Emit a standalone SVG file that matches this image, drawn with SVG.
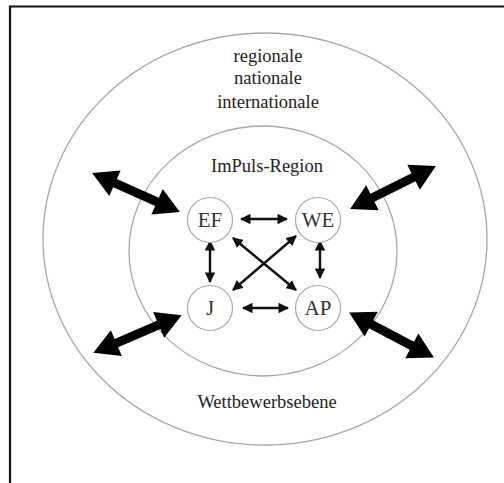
<svg xmlns="http://www.w3.org/2000/svg" width="504" height="483" viewBox="0 0 504 483">
<style>
.ring{fill:none;stroke:#a8a8a8;stroke-width:1.3}
.node{fill:#fff;stroke:#a8a8a8;stroke-width:1.2}
.lbl{font-family:"Liberation Serif",serif;fill:#222;text-anchor:middle;font-size:18.5px}
.nl{font-family:"Liberation Serif",serif;fill:#333;text-anchor:middle;font-size:21px}
.sm{stroke:#111;stroke-width:2.4;fill:none;marker-start:url(#ah);marker-end:url(#ah)}
.big{fill:#000}
</style>
<defs>
<marker id="ah" viewBox="0 0 10 10" refX="9" refY="5" markerWidth="4.4" markerHeight="4.4" orient="auto-start-reverse" markerUnits="strokeWidth">
<path d="M0,0 L10,5 L0,10 Z" fill="#111"/>
</marker>
<path id="bigarrow" d="M-48,0 L-23,-14 L-23,-4.5 L23,-4.5 L23,-14 L48,0 L23,14 L23,4.5 L-23,4.5 L-23,14 Z"/>
</defs>
<rect width="504" height="483" fill="#fff"/>
<path d="M10,483 L10,6.5 L504,6.5" fill="none" stroke="#111" stroke-width="2.2"/>
<g id="outer">
<ellipse class="ring" cx="265" cy="239" rx="222" ry="206"/>
<text class="lbl" x="268" y="62">regionale</text>
<text class="lbl" x="268" y="84">nationale</text>
<text class="lbl" x="268" y="108">internationale</text>
<text class="lbl" x="267" y="408">Wettbewerbsebene</text>
</g>
<g id="inner">
<ellipse class="ring" cx="263" cy="251" rx="134" ry="125"/>
<text class="lbl" x="267" y="172">ImPuls-Region</text>
</g>
<g id="connectors">
<line class="sm" x1="241" y1="219" x2="287" y2="219"/>
<line class="sm" x1="243" y1="308" x2="288" y2="308"/>
<line class="sm" x1="210" y1="241" x2="210" y2="282"/>
<line class="sm" x1="320" y1="241" x2="320" y2="278"/>
<line class="sm" x1="233" y1="238" x2="296" y2="290"/>
<line class="sm" x1="296" y1="236" x2="233" y2="290"/>
<use class="big" href="#bigarrow" transform="translate(136,192.5) rotate(23.9)"/>
<use class="big" href="#bigarrow" transform="translate(393,187.5) rotate(-26.6)"/>
<use class="big" href="#bigarrow" transform="translate(137.5,334) rotate(-23.1)"/>
<use class="big" href="#bigarrow" transform="translate(391.5,335) rotate(27.9)"/>
</g>
<g id="EF"><circle class="node" cx="210" cy="220" r="22.5"/><text class="nl" x="210" y="227">EF</text></g>
<g id="WE"><circle class="node" cx="318" cy="220" r="22.5"/><text class="nl" x="318" y="227">WE</text></g>
<g id="J"><circle class="node" cx="210" cy="308" r="22.5"/><text class="nl" x="210" y="315">J</text></g>
<g id="AP"><circle class="node" cx="318" cy="308" r="22.5"/><text class="nl" x="318" y="315">AP</text></g>
</svg>
